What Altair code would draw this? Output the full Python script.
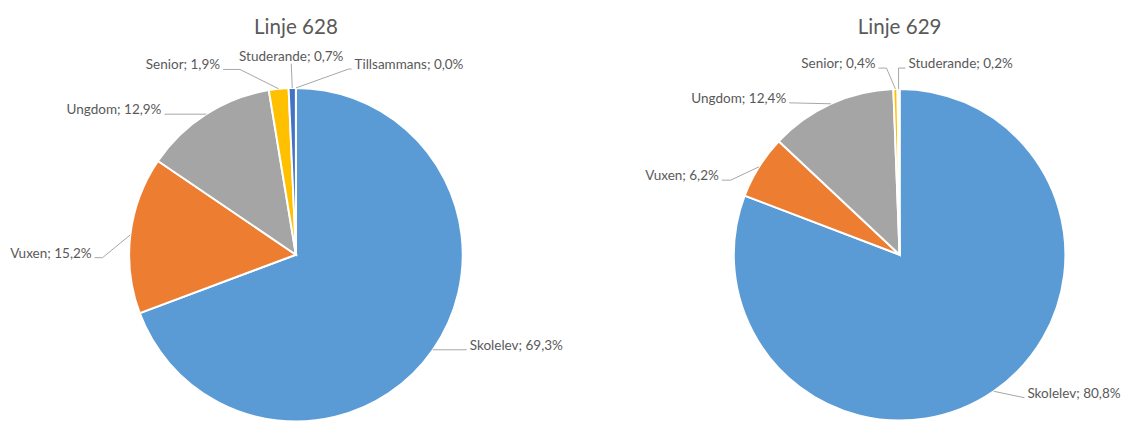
import altair as alt
import pandas as pd

# ---------------- data ----------------
CATEGORIES = ["Skolelev", "Vuxen", "Ungdom", "Senior", "Studerande", "Tillsammans"]
COLORS = ["#5B9BD5", "#ED7D31", "#A5A5A5", "#FFC000", "#4472C4", "#70AD47"]

PIE_TITLES = ["Linje 628", "Linje 629"]
SHARES_628 = [69.3, 15.2, 12.9, 1.9, 0.7, 0.0]
SHARES_629 = [80.8, 6.2, 12.4, 0.4, 0.2]

# ---------------- layout (plot pixels) ----------------
PIE_CENTER_X = [290, 898]
PIE_CENTER_Y = [247, 247]
PIE_RADIUS = [168, 167]

# per label: offset of the leader end from the slice edge (dx, dy),
# length of the horizontal landing, side (1 = text right, -1 = text left, 0 = above)
LABEL_LAYOUT_628 = [(34, 0, 0, 1), (-36, 23, 8, -1), (-42, 0, 0, -1),
                    (-56, -19.5, 17, -1), (-1, -24.5, 0, 0), (56, -19, 3, 1)]
LABEL_LAYOUT_629 = [(31, 6.5, 0, 1), (-37.5, 13.5, 9, -1), (-42, -1, 0, -1),
                    (-17, -21, 8, -1), (7, -21, 7, 1)]

FONT = "Lato"
TEXT_COLOR = "#595959"
LINE_COLOR = "#A6A6A6"

rows = []
for p, (title, shares, layout) in enumerate(
        zip(PIE_TITLES, [SHARES_628, SHARES_629], [LABEL_LAYOUT_628, LABEL_LAYOUT_629])):
    for i, v in enumerate(shares):
        ox, oy, elbow, side = layout[i]
        rows.append(dict(pie=title, cat=CATEGORIES[i], value=v, idx=i,
                         cx=PIE_CENTER_X[p], cy=PIE_CENTER_Y[p], r=PIE_RADIUS[p],
                         ox=ox, oy=oy, elbow=elbow, side=side))
df = pd.DataFrame(rows)

base = (
    alt.Chart(df)
    .transform_window(cum="sum(value)", sort=[alt.SortField("idx", order="ascending")],
                      groupby=["pie"], frame=[None, 0])
    .transform_joinaggregate(total="sum(value)", groupby=["pie"])
    .transform_calculate(mid="2*PI*(datum.cum - datum.value/2)/datum.total")
    .transform_calculate(ax="datum.cx + datum.r*sin(datum.mid)")
    .transform_calculate(ay="datum.cy - datum.r*cos(datum.mid)")
    .transform_calculate(lx="datum.ax + datum.ox")
    .transform_calculate(ly="datum.ay + datum.oy")
    .transform_calculate(ex="datum.lx - datum.side*datum.elbow")
    .transform_calculate(tx="datum.lx + datum.side*3")
    .transform_calculate(ty="datum.side == 0 ? datum.ly - 3 : datum.ly")
    .transform_calculate(
        label="datum.cat + '; ' + replace(format(datum.value, '.1f'), '.', ',') + '%'")
)

color = alt.Color("cat:N", scale=alt.Scale(domain=CATEGORIES, range=COLORS), legend=None)

layers = []
for p, title in enumerate(PIE_TITLES):
    arc = (
        base.transform_filter(alt.datum.pie == title)
        .mark_arc(radius=PIE_RADIUS[p], stroke="white", strokeWidth=2)
        .encode(theta=alt.Theta("value:Q", stack=True),
                color=color,
                order=alt.Order("idx:Q", sort="ascending"),
                x=alt.value(PIE_CENTER_X[p]), y=alt.value(PIE_CENTER_Y[p]))
    )
    layers.append(arc)

lead1 = base.mark_rule(color=LINE_COLOR, strokeWidth=1).encode(
    x=alt.X("ax:Q", scale=None, axis=None), y=alt.Y("ay:Q", scale=None, axis=None),
    x2="ex:Q", y2="ly:Q")
lead2 = base.mark_rule(color=LINE_COLOR, strokeWidth=1).encode(
    x=alt.X("ex:Q", scale=None, axis=None), y=alt.Y("ly:Q", scale=None, axis=None),
    x2="lx:Q", y2="ly:Q")
layers += [lead1, lead2]

for side, align in [(-1, "right"), (0, "center"), (1, "left")]:
    txt = (
        base.transform_filter(alt.datum.side == side)
        .mark_text(align=align, baseline="alphabetic", font=FONT, fontSize=13.6, color=TEXT_COLOR)
        .encode(x=alt.X("tx:Q", scale=None, axis=None), y=alt.Y("ty:Q", scale=None, axis=None),
                text="label:N")
    )
    layers.append(txt)

titles_df = pd.DataFrame({"pie": PIE_TITLES, "cx": PIE_CENTER_X})
titles = alt.Chart(titles_df).mark_text(
    baseline="alphabetic", font=FONT, fontSize=20.7, color=TEXT_COLOR
).encode(x=alt.X("cx:Q", scale=None, axis=None), y=alt.value(25), text="pie:N")
layers.append(titles)

chart = (
    alt.layer(*layers)
    .properties(width=1122, height=414, padding=0,
                autosize=alt.AutoSizeParams(type="none"))
    .configure_view(strokeWidth=0)
)

chart.save("out.html", embed_options={"renderer": "svg", "actions": False})
